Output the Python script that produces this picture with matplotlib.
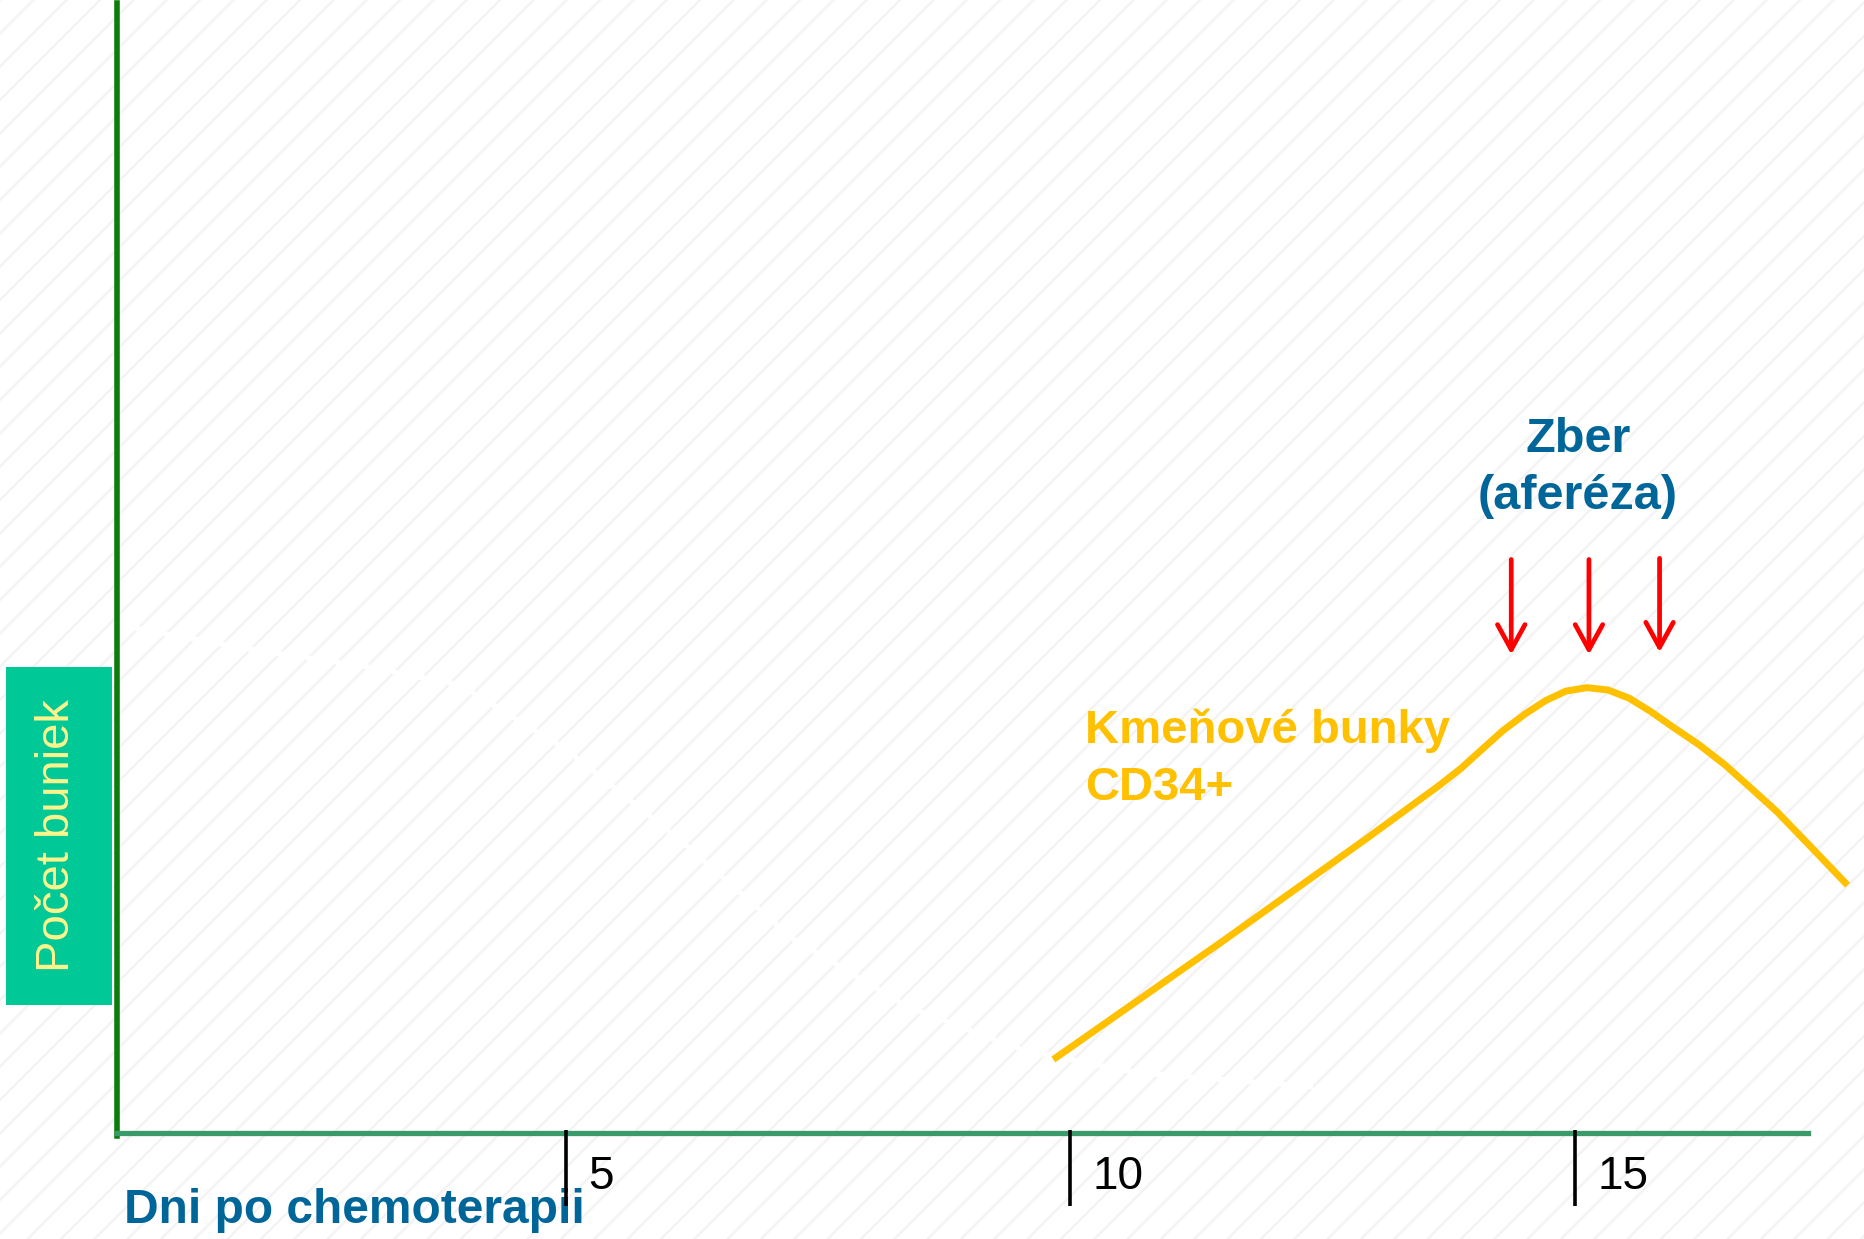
import matplotlib
matplotlib.use("Agg")
import matplotlib.pyplot as plt
from matplotlib.patches import Rectangle

plt.rcParams['font.family'] = ['Liberation Sans', 'DejaVu Sans']
plt.rcParams['hatch.linewidth'] = 1.7

# data (days after chemo, cell count in arbitrary units)
cd34_days = [9.86, 11.53, 12.95, 13.24, 13.45, 13.66, 13.87, 14.08, 14.29, 14.51,
             14.71, 14.91, 15.12, 15.33, 15.54, 15.75, 15.97, 16.23, 16.49, 16.74,
             17.00, 17.33, 17.68]
cd34_counts = [6.77, 17.18, 26.22, 28.11, 29.48, 30.85, 32.32, 34.01, 35.69, 37.16,
               38.32, 39.16, 39.47, 39.26, 38.53, 37.37, 36.00, 34.43, 32.63, 30.63,
               28.53, 25.48, 22.22]

# leukocyte curve (drawn in white on the slide)
wbc_days = [0.56, 1.71, 3.04, 3.95, 4.99, 6.13, 7.26, 8.40, 9.54, 10.68, 12.38]
wbc_counts = [45.0, 43.1, 41.3, 39.7, 34.1, 26.0, 17.2, 11.2, 7.4, 5.4, 4.2]

# apheresis arrows
arrow_days = [14.37, 15.14, 15.84]
arrow_top = [50.8, 50.8, 50.9]
arrow_tip = [42.4, 42.4, 42.6]

tick_days = [5, 10, 15]
tick_labels = ['5', '10', '15']

xlabel = 'Dni po chemoterapii'
ylabel = 'Počet buniek'
cd34_lines = ['Kmeňové bunky', 'CD34+']
zber_lines = ['Zber', '(aferéza)']

BLUE = '#006699'
YELLOW = '#FFC000'

fig = plt.figure(figsize=(18.65, 12.39), dpi=100)
fig.patch.set_facecolor('white')
ax = fig.add_axes([0, 0, 1, 1])
ax.set_xlim(-0.6075, 17.876)
ax.set_ylim(-9.28, 100.27)
ax.set_xticks([])
ax.set_yticks([])

# striped slide background
ax.add_patch(Rectangle((0, 0), 1, 1, transform=ax.transAxes, facecolor='white',
                       edgecolor='#f3f3f3', hatch='/', lw=0, zorder=0))

# axes lines
for s in ['top', 'right']:
    ax.spines[s].set_visible(False)
ax.spines['left'].set_position(('data', 0.552))
ax.spines['left'].set_bounds(-0.2, 100)
ax.spines['left'].set_color('#0A7D0A')
ax.spines['left'].set_linewidth(4)
ax.spines['bottom'].set_position(('data', 0.1))
ax.spines['bottom'].set_bounds(0.552, 17.31)
ax.spines['bottom'].set_color('#3A9A6A')
ax.spines['bottom'].set_linewidth(3.8)

# tick marks + labels
ax.vlines(tick_days, -6.4, 0.35, color='black', lw=2.6, zorder=4)
for d, lab in zip(tick_days, tick_labels):
    ax.text(d + 0.22, -3.8, lab, ha='left', va='center', fontsize=33, color='black')

# curves
ax.plot(wbc_days, wbc_counts, color='white', lw=3.6, zorder=2)
ax.plot(cd34_days, cd34_counts, color=YELLOW, lw=5, zorder=3, clip_on=False,
        solid_joinstyle='round')

for d, top, tip in zip(arrow_days, arrow_top, arrow_tip):
    ax.annotate('', xy=(d, tip), xytext=(d, top),
                arrowprops=dict(arrowstyle='->,head_length=0.6,head_width=0.33',
                                color='red', lw=3.4, mutation_scale=30,
                                shrinkA=0, shrinkB=0))

# labels
line_step = 5.0
for i, t in enumerate(cd34_lines):
    ax.text(10.15, 34.57 - i * line_step, t, ha='left', va='baseline',
            fontsize=34, fontweight='bold', color=YELLOW)
for i, t in enumerate(zber_lines):
    ax.text(15.03, 60.3 - i * line_step, t, ha='center', va='baseline',
            fontsize=35, fontweight='bold', color=BLUE)

ax.text(0.621, -7.87, xlabel, ha='left', va='baseline', fontsize=34.5,
        fontweight='bold', color=BLUE, zorder=3)

# y label box
fig.patches.append(Rectangle((0.0032, 0.1889), 0.0568, 0.2728, transform=fig.transFigure,
                             facecolor='#00C896', edgecolor='none', zorder=5))
fig.text(0.0305, 0.326, ylabel, rotation=90, ha='center', va='center',
         fontsize=34, color='#FDF48C', zorder=6)

fig.savefig('out.png', dpi=100)
